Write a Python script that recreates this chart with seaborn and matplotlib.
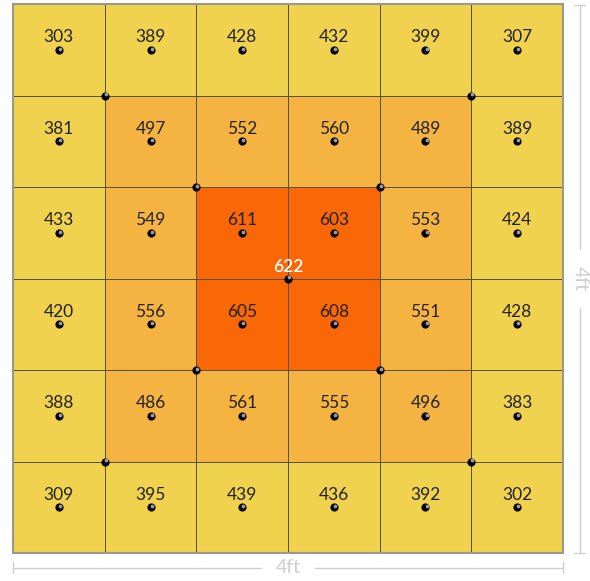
import numpy as np
import pandas as pd
import matplotlib.pyplot as plt
import matplotlib as mpl
from matplotlib.colors import ListedColormap
import seaborn as sns

# ---------------------------------------------------
# data: readings per grid cell (6x6, 4ft x 4ft area)
# ---------------------------------------------------
row_1 = [303, 389, 428, 432, 399, 307]
row_2 = [381, 497, 552, 560, 489, 389]
row_3 = [433, 549, 611, 603, 553, 424]
row_4 = [420, 556, 605, 608, 551, 428]
row_5 = [388, 486, 561, 555, 496, 383]
row_6 = [309, 395, 439, 436, 392, 302]
center_value = 622
dim_label = "4ft"

# which ring a cell belongs to (0 = outer, 1 = middle, 2 = inner)
zone_1 = [0, 0, 0, 0, 0, 0]
zone_2 = [0, 1, 1, 1, 1, 0]
zone_3 = [0, 1, 2, 2, 1, 0]
zone_4 = [0, 1, 2, 2, 1, 0]
zone_5 = [0, 1, 1, 1, 1, 0]
zone_6 = [0, 0, 0, 0, 0, 0]

# grid corner points with a marker
corner_x = [1, 5, 1, 5, 2, 4, 2, 4, 3]
corner_y = [1, 1, 5, 5, 2, 2, 4, 4, 3]

values = pd.DataFrame([row_1, row_2, row_3, row_4, row_5, row_6])
zones = pd.DataFrame([zone_1, zone_2, zone_3, zone_4, zone_5, zone_6])

sns.set_style("white")
plt.rcParams["font.family"] = ["Lato", "DejaVu Sans"]

fig = plt.figure(figsize=(5.9, 5.81), dpi=100)
ax = fig.add_axes([13 / 590, 1 - 553 / 581, 550 / 590, 549 / 581])

cmap = ListedColormap(["#F0D24F", "#F5B441", "#F96706"])
sns.heatmap(
    zones, ax=ax, cmap=cmap, vmin=-0.5, vmax=2.5, cbar=False,
    linewidths=0.6, linecolor="#55533f", square=False,
    xticklabels=False, yticklabels=False,
)
ax.set_xlim(0, 6)
ax.set_ylim(6, 0)

# outer border
ax.add_patch(plt.Rectangle((0, 0), 6, 6, fill=False, edgecolor="#9a9a8a",
                           linewidth=1.5, clip_on=False, zorder=3))


def draw_dot(x, y):
    ax.scatter([x], [y], s=24, color="black", zorder=5, clip_on=False)
    ax.scatter([x + 0.012], [y - 0.012], s=3, color="#9a9a9a", zorder=6,
               clip_on=False)


# cell values + dots
for i in range(6):
    for j in range(6):
        cx, cy = j + 0.5, i + 0.5
        ax.text(cx, cy - 0.135, str(values.iloc[i, j]), ha="center",
                va="center", fontsize=12.5, color="#222222", zorder=6)
        draw_dot(cx, cy)

for x, y in zip(corner_x, corner_y):
    draw_dot(x, y)

ax.text(3, 2.87, str(center_value), ha="center", va="center",
        fontsize=12.5, color="white", fontweight="semibold", zorder=6)

# dimension lines
dim_color = "#cfcfcf"
rx = 6.185
ax.plot([rx, rx], [0.01, 2.68], color=dim_color, lw=1, clip_on=False)
ax.plot([rx, rx], [3.32, 6.0], color=dim_color, lw=1, clip_on=False)
ax.plot([rx - 0.06, rx + 0.06], [0.01, 0.01], color=dim_color, lw=1, clip_on=False)
ax.plot([rx - 0.06, rx + 0.06], [6.0, 6.0], color=dim_color, lw=1, clip_on=False)
ax.text(rx, 3.0, dim_label, rotation=-90, ha="center", va="center",
        fontsize=14, color=dim_color)

by = 6.16
ax.plot([0, 2.7], [by, by], color=dim_color, lw=1, clip_on=False)
ax.plot([3.3, 6.0], [by, by], color=dim_color, lw=1, clip_on=False)
ax.plot([0, 0], [by - 0.06, by + 0.06], color=dim_color, lw=1, clip_on=False)
ax.plot([6.0, 6.0], [by - 0.06, by + 0.06], color=dim_color, lw=1, clip_on=False)
ax.text(3.0, by, dim_label, ha="center", va="center", fontsize=14,
        color=dim_color)

fig.savefig("out.png", dpi=100)
plt.close()
